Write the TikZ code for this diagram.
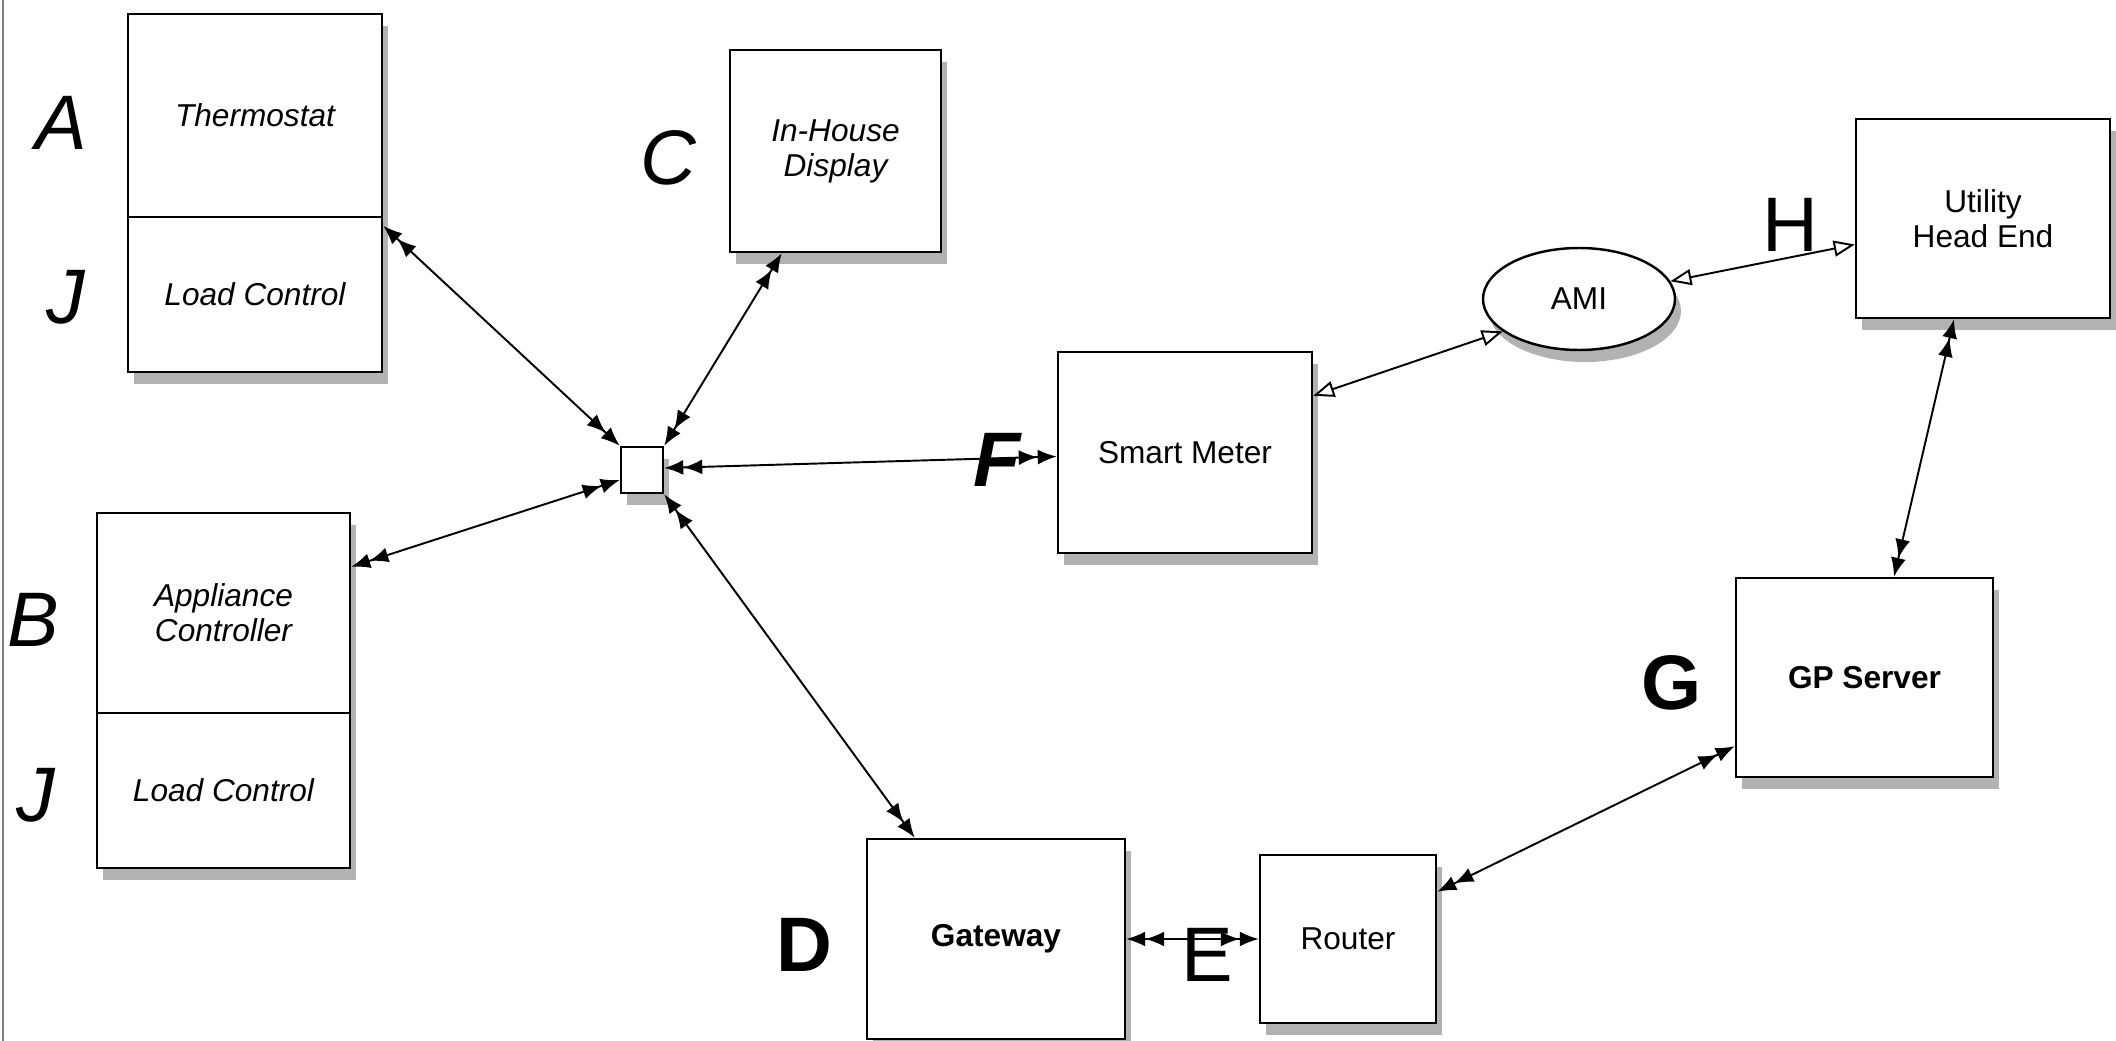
\documentclass[tikz,border=0pt]{standalone}
\usepackage{fontspec}
\setsansfont{Liberation Sans}
\usetikzlibrary{shapes.geometric, positioning, arrows.meta, shadows}

\tikzset{
  device/.style={draw, fill=white, line width=0.7pt, align=center, inner sep=0pt,
    font=\sffamily\fontsize{9}{10}\selectfont,
    drop shadow={shadow xshift=0.6mm, shadow yshift=-1.2mm, opacity=0.3, fill=black}},
  itdevice/.style={device, font=\sffamily\itshape\fontsize{9}{10}\selectfont},
  bfdevice/.style={device, font=\sffamily\bfseries\fontsize{9}{10}\selectfont},
  letter/.style={inner sep=0pt, font=\sffamily\fontsize{22}{22}\selectfont},
  link/.style={line width=0.55pt,
    {Latex[length=1.9mm,width=1.5mm]Latex[length=1.9mm,width=1.5mm]}-{Latex[length=1.9mm,width=1.5mm]Latex[length=1.9mm,width=1.5mm]}},
  amilink/.style={line width=0.55pt,
    {Triangle[open,length=2.1mm,width=1.6mm]}-{Triangle[open,length=2.1mm,width=1.6mm]}},
}

\begin{document}
\begin{tikzpicture}[x=0.1mm, y=-0.1mm]
    \useasboundingbox (0,0) rectangle (2116,1041);
    \draw[gray, line width=0.8pt] (3,0) -- (3,1041);

    % home area network
    \node (thermostat) [itdevice, minimum width=25.4mm, minimum height=20.3mm] at (255,115.5) {Thermostat};
    \node (loadA) [itdevice, minimum width=25.4mm, minimum height=15.5mm, below=-0.7pt of thermostat] {Load Control};
    \node (appliance) [itdevice, minimum width=25.3mm, minimum height=20mm] at (223.5,613) {Appliance\\Controller};
    \node (loadB) [itdevice, minimum width=25.3mm, minimum height=15.5mm, below=-0.7pt of appliance] {Load Control};
    \node (display) [itdevice, minimum width=21.1mm, minimum height=20.2mm] at (835.5,151) {In-House\\Display};
    \node (hub) [device, minimum width=4.2mm, minimum height=4.6mm] at (642,470) {};
    \node (meter) [device, minimum width=25.4mm, minimum height=20.1mm] at (1185,452.5) {Smart Meter};
    \node (gateway) [bfdevice, minimum width=25.8mm, minimum height=20mm] at (996,939) {Gateway};
    \node (router) [device, minimum width=17.6mm, minimum height=16.8mm] at (1348,939) {Router};

    % utility side
    \node (ami) [device, ellipse, minimum width=19.2mm, minimum height=10.2mm] at (1579,299) {AMI};
    \node (utility) [device, minimum width=25.4mm, minimum height=19.9mm] at (1983,218.5) {Utility\\Head End};
    \node (gpserver) [bfdevice, minimum width=25.7mm, minimum height=19.9mm] at (1864.5,677.5) {GP Server};

    % letters
    \node (labA) [letter, font=\sffamily\itshape\fontsize{22}{22}\selectfont] at (61,123) {A};
    \node (labJa) [letter, font=\sffamily\itshape\fontsize{22}{22}\selectfont] at (66,297) {J};
    \node (labB) [letter, font=\sffamily\itshape\fontsize{22}{22}\selectfont] at (33,620) {B};
    \node (labJb) [letter, font=\sffamily\itshape\fontsize{22}{22}\selectfont] at (36,795) {J};
    \node (labC) [letter, font=\sffamily\itshape\fontsize{22}{22}\selectfont] at (668,158) {C};
    \node (labD) [letter, font=\sffamily\bfseries\fontsize{22}{22}\selectfont] at (804,945) {D};
    \node (labG) [letter, font=\sffamily\bfseries\fontsize{22}{22}\selectfont] at (1672,683) {G};
    \node (labH) [letter] at (1790,225) {H};

    \draw[link] (hub.north west) -- ([yshift=-1mm]loadA.north east);
    \draw[link] (hub.north east) -- ([xshift=5.3mm]display.south west);
    \draw[link] ([yshift=-1mm]hub.west) -- ([yshift=-5.5mm]appliance.north east);
    \draw[link] (hub.south east) -- ([xshift=4.9mm]gateway.north west);
    \draw[link] ([yshift=0.2mm]hub.east) -- ([yshift=-0.4mm]meter.west);
    \draw[link] (gateway.east) -- (router.west);
    \draw[link] ([yshift=3.2mm]gpserver.south west) -- ([yshift=-3.8mm]router.north east);
    \draw[link] ([xshift=-2.9mm]utility.south) -- ([xshift=2.95mm]gpserver.north);
    \draw[amilink] ([yshift=-4.5mm]meter.north east) -- (ami.203);
    \draw[amilink] (ami.11) -- ([yshift=-2.6mm]utility.west);

    % letters over the links
    \node (labE) [letter] at (1207,955) {E};
    \node (labF) [letter, font=\sffamily\bfseries\itshape\fontsize{22}{22}\selectfont] at (997,460) {F};
\end{tikzpicture}
\end{document}
